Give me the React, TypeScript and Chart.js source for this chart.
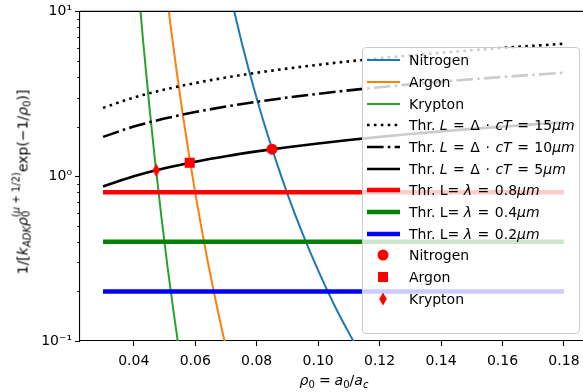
import React, { useEffect, useRef } from 'react';
import { Chart, registerables } from 'chart.js';

Chart.register(...registerables);

// ---- data ----
const thrX = [0.03, 0.04, 0.05, 0.06, 0.07, 0.08, 0.09, 0.10, 0.11, 0.12, 0.13, 0.14, 0.15, 0.16, 0.17, 0.18];
const thr15 = [2.598, 3.0, 3.354, 3.674, 3.969, 4.243, 4.5, 4.743, 4.975, 5.196, 5.408, 5.612, 5.809, 6.0, 6.185, 6.364];
const thr10 = [1.732, 2.0, 2.236, 2.449, 2.646, 2.828, 3.0, 3.162, 3.317, 3.464, 3.606, 3.742, 3.873, 4.0, 4.123, 4.243];
const thr5 = [0.866, 1.0, 1.118, 1.225, 1.323, 1.414, 1.5, 1.581, 1.658, 1.732, 1.803, 1.871, 1.936, 2.0, 2.062, 2.121];

const hX = [0.03, 0.18];
const hRed = [0.8, 0.8];
const hGreen = [0.4, 0.4];
const hBlue = [0.2, 0.2];

const nitrogenX = [0.070, 0.075, 0.080, 0.085, 0.090, 0.095, 0.100, 0.105, 0.110, 0.115];
const nitrogenY = [16.6, 6.62, 2.97, 1.47, 0.782, 0.445, 0.268, 0.169, 0.112, 0.0764];
const argonX = [0.050, 0.052, 0.054, 0.056, 0.058, 0.060, 0.062, 0.064, 0.066, 0.068, 0.070, 0.072];
const argonY = [16.3, 8.13, 4.26, 2.33, 1.34, 0.794, 0.488, 0.308, 0.201, 0.134, 0.0914, 0.0638];
const kryptonX = [0.041, 0.043, 0.045, 0.047, 0.049, 0.051, 0.053, 0.055, 0.057];
const kryptonY = [18.1, 6.73, 2.74, 1.2, 0.565, 0.281, 0.148, 0.0813, 0.0467];

const markNitrogen = [0.085, 1.458];
const markArgon = [0.0582, 1.206];
const markKrypton = [0.0473, 1.087];

const xTicks = [0.04, 0.06, 0.08, 0.10, 0.12, 0.14, 0.16, 0.18];
const yTicks = [0.1, 1, 10];
const yTickLabels = ['10\u207B\u00B9', '10\u2070', '10\u00B9'];
const yMinor = [0.2, 0.3, 0.4, 0.5, 0.6, 0.7, 0.8, 0.9, 2, 3, 4, 5, 6, 7, 8, 9];

const FONT = 'DejaVu Sans';

const pts = (xs: number[], ys: number[]) => xs.map((x, i) => ({ x, y: ys[i] }));

function thinDiamond() {
  const c = document.createElement('canvas');
  c.width = 9;
  c.height = 14;
  const g = c.getContext('2d')!;
  g.fillStyle = '#ff0000';
  g.beginPath();
  g.moveTo(4.5, 0.5);
  g.lineTo(8.3, 7);
  g.lineTo(4.5, 13.5);
  g.lineTo(0.7, 7);
  g.closePath();
  g.fill();
  return c;
}

const framePlugin = {
  id: 'frame',
  afterDraw(chart: any) {
    const { ctx, chartArea } = chart;
    const y = chart.scales.y;
    ctx.save();
    ctx.strokeStyle = '#000';
    ctx.lineWidth = 1.1;
    ctx.beginPath();
    ctx.moveTo(chartArea.left, chartArea.top);
    ctx.lineTo(chartArea.right + 5, chartArea.top);
    ctx.stroke();
    ctx.lineWidth = 0.9;
    yMinor.forEach((v) => {
      const py = Math.round(y.getPixelForValue(v)) + 0.5;
      ctx.beginPath();
      ctx.moveTo(chartArea.left - 2.8, py);
      ctx.lineTo(chartArea.left, py);
      ctx.stroke();
    });
    ctx.restore();
  },
};

type Row = { kind: 'line' | 'circle' | 'square' | 'diamond'; color?: string; width?: number; dash?: string; label: React.ReactNode };

const I = (s: string) => <i>{s}</i>;
const Op = (s: string) => <span style={{ margin: '0 5.5px' }}>{s}</span>;

const rows: Row[] = [
  { kind: 'line', color: '#1f77b4', width: 2, label: 'Nitrogen' },
  { kind: 'line', color: '#ff7f0e', width: 2, label: 'Argon' },
  { kind: 'line', color: '#2ca02c', width: 2, label: 'Krypton' },
  { kind: 'line', color: '#000', width: 2.6, dash: '2.6 4.3', label: <>Thr. {I('L')}{Op('=')}Δ{Op('·')}{I('cT')}{Op('=')}15{I('μm')}</> },
  { kind: 'line', color: '#000', width: 2.6, dash: '16.6 4.2 2.6 4.2', label: <>Thr. {I('L')}{Op('=')}Δ{Op('·')}{I('cT')}{Op('=')}10{I('μm')}</> },
  { kind: 'line', color: '#000', width: 2.6, label: <>Thr. {I('L')}{Op('=')}Δ{Op('·')}{I('cT')}{Op('=')}5{I('μm')}</> },
  { kind: 'line', color: '#ff0000', width: 4.5, label: <>Thr. L= {I('λ')}{Op('=')}0.8{I('μm')}</> },
  { kind: 'line', color: '#008000', width: 4.5, label: <>Thr. L= {I('λ')}{Op('=')}0.4{I('μm')}</> },
  { kind: 'line', color: '#0000ff', width: 4.5, label: <>Thr. L= {I('λ')}{Op('=')}0.2{I('μm')}</> },
  { kind: 'circle', label: 'Nitrogen' },
  { kind: 'square', label: 'Argon' },
  { kind: 'diamond', label: 'Krypton' },
];

function Handle({ r }: { r: Row }) {
  return (
    <svg width={33} height={22} style={{ display: 'block' }}>
      {r.kind === 'line' && (
        <line x1={0} y1={11} x2={33} y2={11} stroke={r.color} strokeWidth={r.width} strokeDasharray={r.dash} />
      )}
      {r.kind === 'circle' && <circle cx={16} cy={11} r={5.5} fill="#ff0000" />}
      {r.kind === 'square' && <rect x={11} y={6} width={10} height={10} fill="#ff0000" />}
      {r.kind === 'diamond' && <polygon points="16,4.5 19.8,11 16,17.5 12.2,11" fill="#ff0000" />}
    </svg>
  );
}

export default function App() {
  const ref = useRef<HTMLCanvasElement | null>(null);

  useEffect(() => {
    const canvas = ref.current!;
    const diamond = thinDiamond();
    const colored = (label: string, xs: number[], ys: number[], color: string) => ({
      label,
      data: pts(xs, ys),
      borderColor: color,
      backgroundColor: color,
      borderWidth: 2,
      pointRadius: 0,
      cubicInterpolationMode: 'monotone',
      order: 4,
    });
    const thr = (label: string, ys: number[], dash: number[]) => ({
      label,
      data: pts(thrX, ys),
      borderColor: '#000',
      backgroundColor: '#000',
      borderWidth: 2.6,
      borderDash: dash,
      pointRadius: 0,
      cubicInterpolationMode: 'monotone',
      order: 3,
    });
    const hl = (label: string, ys: number[], color: string) => ({
      label,
      data: pts(hX, ys),
      borderColor: color,
      backgroundColor: color,
      borderWidth: 4.5,
      pointRadius: 0,
      order: 2,
    });
    const mk = (label: string, p: number[], style: any, radius: number) => ({
      label,
      data: [{ x: p[0], y: p[1] }],
      showLine: false,
      pointStyle: style,
      pointRadius: radius,
      pointBackgroundColor: '#ff0000',
      pointBorderColor: '#ff0000',
      pointBorderWidth: 0,
      order: 1,
    });

    const chart = new Chart(canvas, {
      type: 'line',
      data: {
        datasets: [
          colored('Nitrogen', nitrogenX, nitrogenY, '#1f77b4'),
          colored('Argon', argonX, argonY, '#ff7f0e'),
          colored('Krypton', kryptonX, kryptonY, '#2ca02c'),
          thr('Thr15', thr15, [2.6, 4.3]),
          thr('Thr10', thr10, [16.6, 4.2, 2.6, 4.2]),
          thr('Thr5', thr5, []),
          hl('0.8', hRed, '#ff0000'),
          hl('0.4', hGreen, '#008000'),
          hl('0.2', hBlue, '#0000ff'),
          mk('Nitrogen pt', markNitrogen, 'circle', 5.5),
          mk('Argon pt', markArgon, 'rect', 7.1),
          mk('Krypton pt', markKrypton, diamond, 5),
        ] as any,
      },
      options: {
        animation: false,
        responsive: false,
        devicePixelRatio: 1,
        layout: { padding: { top: 11, right: 13, left: 0, bottom: 0 } },
        plugins: { legend: { display: false }, tooltip: { enabled: false } },
        scales: {
          x: {
            type: 'linear',
            min: 0.0225,
            max: 0.1875,
            afterBuildTicks: (s: any) => {
              s.ticks = xTicks.map((v) => ({ value: v }));
            },
            afterFit: (s: any) => {
              s.height = 51;
            },
            ticks: {
              callback: (v: any) => Number(v).toFixed(2),
              color: '#000',
              font: { family: FONT, size: 14 },
              padding: 7,
              maxRotation: 0,
              autoSkip: false,
            },
            grid: { drawOnChartArea: false, drawTicks: true, tickLength: 5, tickColor: '#000', tickWidth: 1.1 },
            border: { display: true, color: '#000', width: 1.1 },
          },
          y: {
            type: 'logarithmic',
            min: 0.1,
            max: 10,
            afterBuildTicks: (s: any) => {
              s.ticks = yTicks.map((v) => ({ value: v }));
            },
            afterFit: (s: any) => {
              s.width = 80;
            },
            ticks: {
              callback: (v: any) => {
                const i = yTicks.findIndex((t) => Math.abs(t - Number(v)) < 1e-9);
                return i >= 0 ? yTickLabels[i] : '';
              },
              color: '#000',
              font: { family: FONT, size: 14 },
              padding: 3,
              autoSkip: false,
            },
            grid: { drawOnChartArea: false, drawTicks: true, tickLength: 5, tickColor: '#000', tickWidth: 1.1 },
            border: { display: true, color: '#000', width: 1.1 },
          },
        },
      } as any,
      plugins: [framePlugin],
    });
    return () => chart.destroy();
  }, []);

  const subStyle: React.CSSProperties = { fontSize: '10px', verticalAlign: '-3px' };

  return (
    <div style={{ position: 'fixed', left: 0, top: 0, width: 583, height: 392, overflow: 'hidden', background: '#fff', fontFamily: FONT, color: '#000' }}>
      <canvas ref={ref} width={600} height={392} style={{ position: 'absolute', left: 0, top: 0, width: 600, height: 392 }} />
      {/* y axis title */}
      <div
        style={{
          position: 'absolute',
          left: 25,
          top: 182,
          transform: 'translate(-50%, -50%) rotate(-90deg)',
          whiteSpace: 'nowrap',
          fontSize: '14px',
          lineHeight: '20px',
        }}
      >
        1/[<i>k</i>
        <i style={subStyle}>ADK</i>
        <i>ρ</i>
        <span style={{ display: 'inline-block', verticalAlign: 'middle', lineHeight: '10px', fontSize: '10px', marginTop: -4 }}>
          <span style={{ display: 'block' }}>
            (<i>μ</i> + 1/2)
          </span>
          <span style={{ display: 'block' }}>0</span>
        </span>
        exp(−1/<i>ρ</i>
        <span style={subStyle}>0</span>)]
      </div>
      {/* x axis title */}
      <div
        style={{
          position: 'absolute',
          left: 334,
          top: 382,
          transform: 'translate(-50%, -50%)',
          whiteSpace: 'nowrap',
          fontSize: '14px',
          lineHeight: '18px',
        }}
      >
        <i>ρ</i>
        <span style={subStyle}>0</span>
        <span style={{ margin: '0 4px' }}>=</span>
        <i>a</i>
        <span style={subStyle}>0</span>/<i>a</i>
        <i style={subStyle}>c</i>
      </div>
      {/* legend */}
      <div
        style={{
          position: 'absolute',
          left: 362,
          top: 47,
          width: 216,
          height: 285,
          border: '1px solid #cccccc',
          borderRadius: 4,
          background: 'rgba(255,255,255,0.8)',
        }}
      >
        {rows.map((r, i) => (
          <div
            key={i}
            style={{
              position: 'absolute',
              left: 4,
              top: 12.3 + 21.67 * i - 11,
              height: 22,
              display: 'flex',
              alignItems: 'center',
              whiteSpace: 'nowrap',
              fontSize: '14px',
            }}
          >
            <Handle r={r} />
            <span style={{ marginLeft: 9 }}>{r.label}</span>
          </div>
        ))}
      </div>
    </div>
  );
}
